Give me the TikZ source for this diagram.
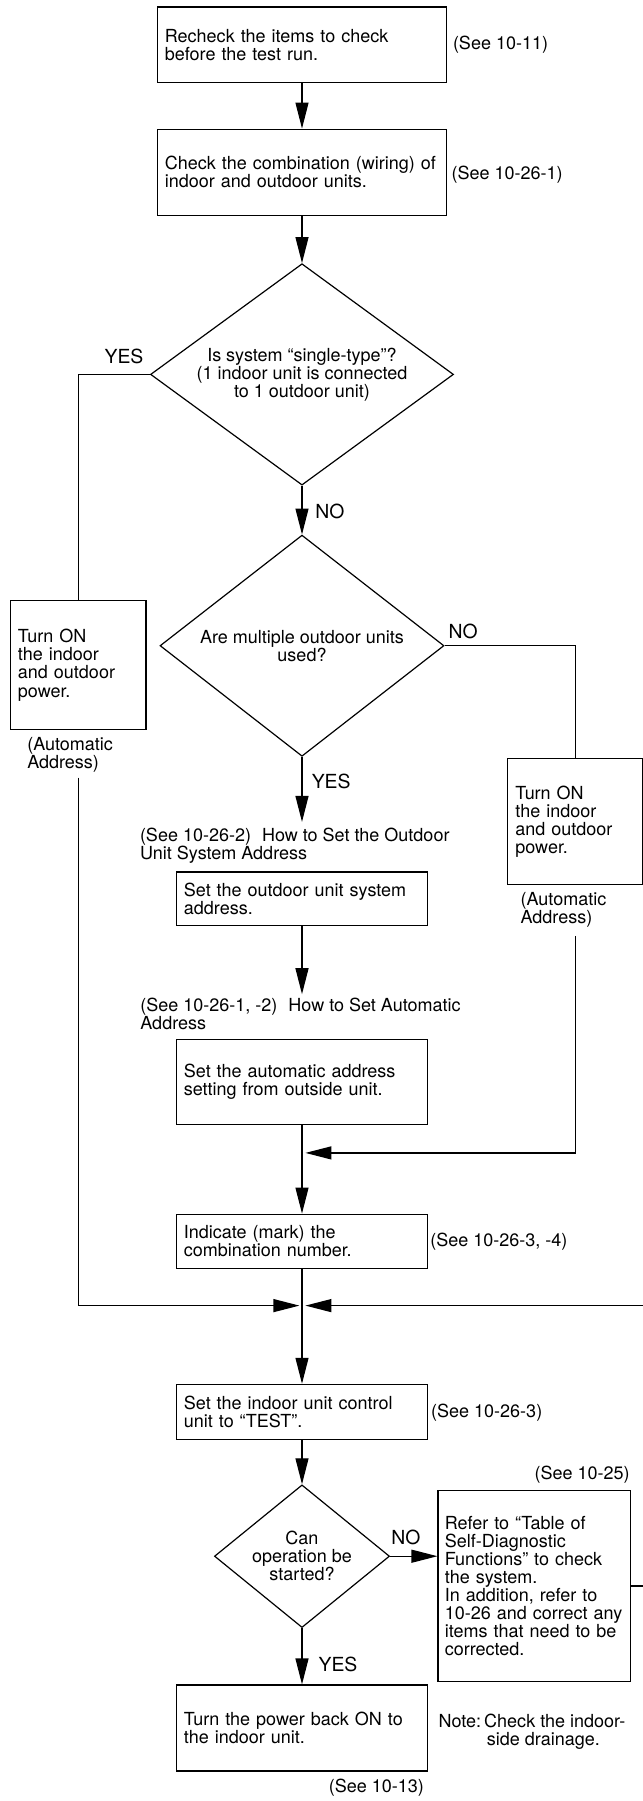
\documentclass[tikz,border=0pt]{standalone}
\usepackage{fontspec}
\setmainfont{TeX Gyre Heros}
\usepackage{tikz}
\usetikzlibrary{shapes.geometric,arrows.meta}

\begin{document}
\begin{tikzpicture}[x=1pt, y=-1pt, line width=0.6pt,
  font=\fontsize{9pt}{9.05pt}\selectfont,
  box/.style={draw, rectangle, align=left, inner xsep=3.8pt, inner ysep=0pt},
  dia/.style={draw, diamond, align=center, inner sep=0pt},
  txt/.style={inner sep=0pt, align=left, anchor=west},
  yn/.style={inner sep=0pt, font=\fontsize{9.7pt}{10pt}\selectfont},
  arr/.style={-{Triangle[length=13pt, width=6.5pt]}}]
\useasboundingbox (0,0) rectangle (321.5,900.5);
\clip (0,0) rectangle (321.5,900.5);
\node[box, text width=137.15pt, minimum height=37.9pt] (A) at (151,22.45) {Recheck the items to check\\before the test run.};
\node[box, text width=137.15pt, minimum height=43.05pt] (B) at (151,86.1) {Check the combination (wiring) of\\indoor and outdoor units.};
\node[dia, minimum width=151.5pt, minimum height=110.7pt, aspect=1.37] (D1) at (151,187.2) {Is system “single-type”?\\(1 indoor unit is connected\\to 1 outdoor unit)};
\node[dia, minimum width=142pt, minimum height=110.6pt, aspect=1.28] (D2) at (151,322.85) {Are multiple outdoor units\\used?};
\node[box, text width=60.25pt, minimum height=64.6pt] (L) at (39.1,332.55) {Turn ON\\the indoor\\and outdoor\\power.};
\node[box, text width=59.85pt, minimum height=63.15pt] (R) at (287.6,410.8) {Turn ON\\the indoor\\and outdoor\\power.};
\node[box, text width=118.1pt, minimum height=26.85pt] (E) at (151,449.4) {Set the outdoor unit system\\address.};
\node[box, text width=118.1pt, minimum height=42.45pt] (F) at (151,540.9) {Set the automatic address\\setting from outside unit.};
\node[box, text width=118.1pt, minimum height=27.25pt] (G) at (151,620.7) {Indicate (mark) the\\combination number.};
\node[box, text width=118.1pt, minimum height=27.45pt] (H) at (151,705.9) {Set the indoor unit control\\unit to “TEST”.};
\node[dia, minimum width=87.55pt, minimum height=71.35pt, aspect=1.23] (D3) at (151,778.1) {Can\\operation be\\started?};
\node[box, inner xsep=3.4pt, text width=89.55pt, minimum height=95.75pt] (K) at (267.2,793) {Refer to “Table of\\Self-Diagnostic\\Functions” to check\\the system.\\In addition, refer to\\10-26 and correct any\\items that need to be\\corrected.};
\node[box, text width=118.1pt, minimum height=43pt] (N) at (151,864) {Turn the power back ON to\\the indoor unit.};

\node[txt] (sA) at (226.2,22.5) {(See 10-11)};
\node[txt] (sB) at (225.5,87.2) {(See 10-26-1)};
\node[txt] (la) at (13.35,377.4) {(Automatic\\Address)};
\node[txt] (ra) at (260,455) {(Automatic\\Address)};
\node[txt] (s1) at (69.7,422.75) {(See 10-26-2)\hspace{5.5pt}How to Set the Outdoor\\Unit System Address};
\node[txt] (s2) at (69.9,507) {(See 10-26-1, -2)\hspace{5.5pt}How to Set Automatic\\Address};
\node[txt] (sG) at (214.9,621) {(See 10-26-3, -4)};
\node[txt] (sH) at (215.3,706.1) {(See 10-26-3)};
\node[txt, anchor=east] (sK) at (315.15,737.5) {(See 10-25)};
\node[txt] (nt) at (219,866.25) {\begin{tabular}{@{}l@{\hspace{1.5pt}}l@{}}Note:&Check the indoor-\\&\hspace{1.4pt}side drainage.\end{tabular}};
\node[txt, anchor=east] (sN) at (212.2,893.75) {(See 10-13)};

\node[yn] (y1) at (62,178.4) {YES};
\node[yn] (n1) at (165,255.9) {NO};
\node[yn] (n2) at (231.6,315.65) {NO};
\node[yn] (y2) at (165.6,390.9) {YES};
\node[yn] (n3) at (203,768.65) {NO};
\node[yn] (y3) at (169,832.2) {YES};

\coordinate (e1) at (151,410.95);
\coordinate (f1) at (151,497.1);
\coordinate (l1) at (39.1,388.85);
\coordinate (r1) at (287.6,467.95);
\coordinate (M) at (151,576.45);
\coordinate (J) at (151,652.8);

\draw[arr] (A) -- (B);
\draw[arr] (B) -- (D1);
\draw[arr] (D1) -- (D2);
\draw (D1.west) -| (L.north);
\draw (D2.east) -| (R.north);
\draw[arr] (D2) -- (e1);
\draw[arr] (E) -- (f1);
\draw[arr] (F) -- (G);
\draw[arr] (G) -- (H);
\draw[arr] (H) -- (D3);
\draw[arr] (D3) -- (N);
\draw[arr] (D3.east) -- (D3.east -| K.west);
\draw[arr, shorten >=1.3pt] (l1) |- (J);
\draw[arr, shorten >=1.7pt] (r1) |- (M);
\draw[arr, shorten >=1.7pt] (K.east) -- ++(12,0) |- (J);
\end{tikzpicture}
\end{document}
